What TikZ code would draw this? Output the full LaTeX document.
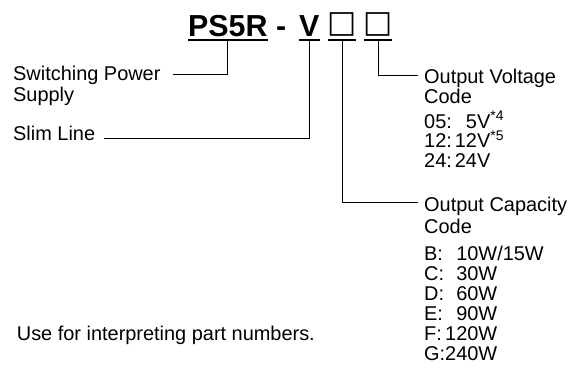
\documentclass[tikz,border=0pt]{standalone}
\usepackage{fontspec}
\setmainfont{Liberation Sans}
\newfontfamily\boxfont{DejaVu Sans}
\usepackage{tikz}

\tikzset{
  code/.style={inner xsep=0pt, inner ysep=3.5bp, text depth=0pt, anchor=base west,
    font=\fontsize{30.5}{36}\selectfont\bfseries},
  blank/.style={code, inner xsep=3bp, font=\fontsize{31}{36}\selectfont\boxfont\bfseries},
  lbl/.style={inner sep=0pt, anchor=base west, font=\fontsize{20}{20}\selectfont},
  uline/.style={line width=1.6bp},
  lead/.style={line width=1bp}
}
\newcommand{\note}[1]{\smash{\textsuperscript{#1}}}
\newcommand{\blankbox}{\makebox[22bp][c]{\raisebox{4.5bp}{□}}}

\begin{document}
\begin{tikzpicture}[x=1bp, y=-1bp]
        \useasboundingbox (0,0) rectangle (585,374);
        %% part number
        \node[code] (ps) at (188,36.5) {PS5R};
        \node[code] (dash) at (276,36.5) {-};
        \node[code] (v) at (299,36.5) {V};
        \node[blank] (boxa) at (328,36.5) {\blankbox};
        \node[blank] (boxb) at (364,36.5) {\blankbox};
        %% underlines
        \foreach \n in {ps,v,boxa,boxb}
            \draw[uline] (\n.south west) -- (\n.south east);
        %% left labels
        \node[lbl] (swp) at (13,80.7) {Switching Power};
        \node[lbl] (sup) at (13,101.7) {Supply};
        \node[lbl] (slim) at (13,140.7) {Slim Line};
        \node[lbl] (use) at (16.7,340) {Use for interpreting part numbers.};
        %% right labels
        \node[lbl] (vol) at (424,83.3) {Output Voltage};
        \node[lbl] (volcode) at (424,103.3) {Code};
        \node[lbl] (volval) at (424,128) {\begin{tabular}[t]{@{}l@{\hspace{3bp}}r@{}l@{}}
            05: & 5V & \note{*4}\\
            12: & 12V & \note{*5}\\
            24: & 24V & \end{tabular}};
        \node[lbl] (cap) at (424,211) {Output Capacity};
        \node[lbl] (capcode) at (424,233) {Code};
        \node[lbl] (capval) at (424,260.7) {\begin{tabular}[t]{@{}l@{}r@{}l@{}}
            B: & 10W & /15W\\
            C: & 30W & \\
            D: & 60W & \\
            E: & 90W & \\
            F: & 120W & \\
            G: & 240W & \end{tabular}};
        %% leaders
        \draw[lead] (ps.south) |- ([shift={(12,-6.2)}]swp.base east);
        \draw[lead] (v.south) |- ([shift={(9,-2.4)}]slim.base east);
        \draw[lead] (boxb.south) |- ([shift={(-6,-8.3)}]vol.base west);
        \draw[lead] (boxa.south) |- ([shift={(-6,-8.3)}]cap.base west);
    \end{tikzpicture}
\end{document}
